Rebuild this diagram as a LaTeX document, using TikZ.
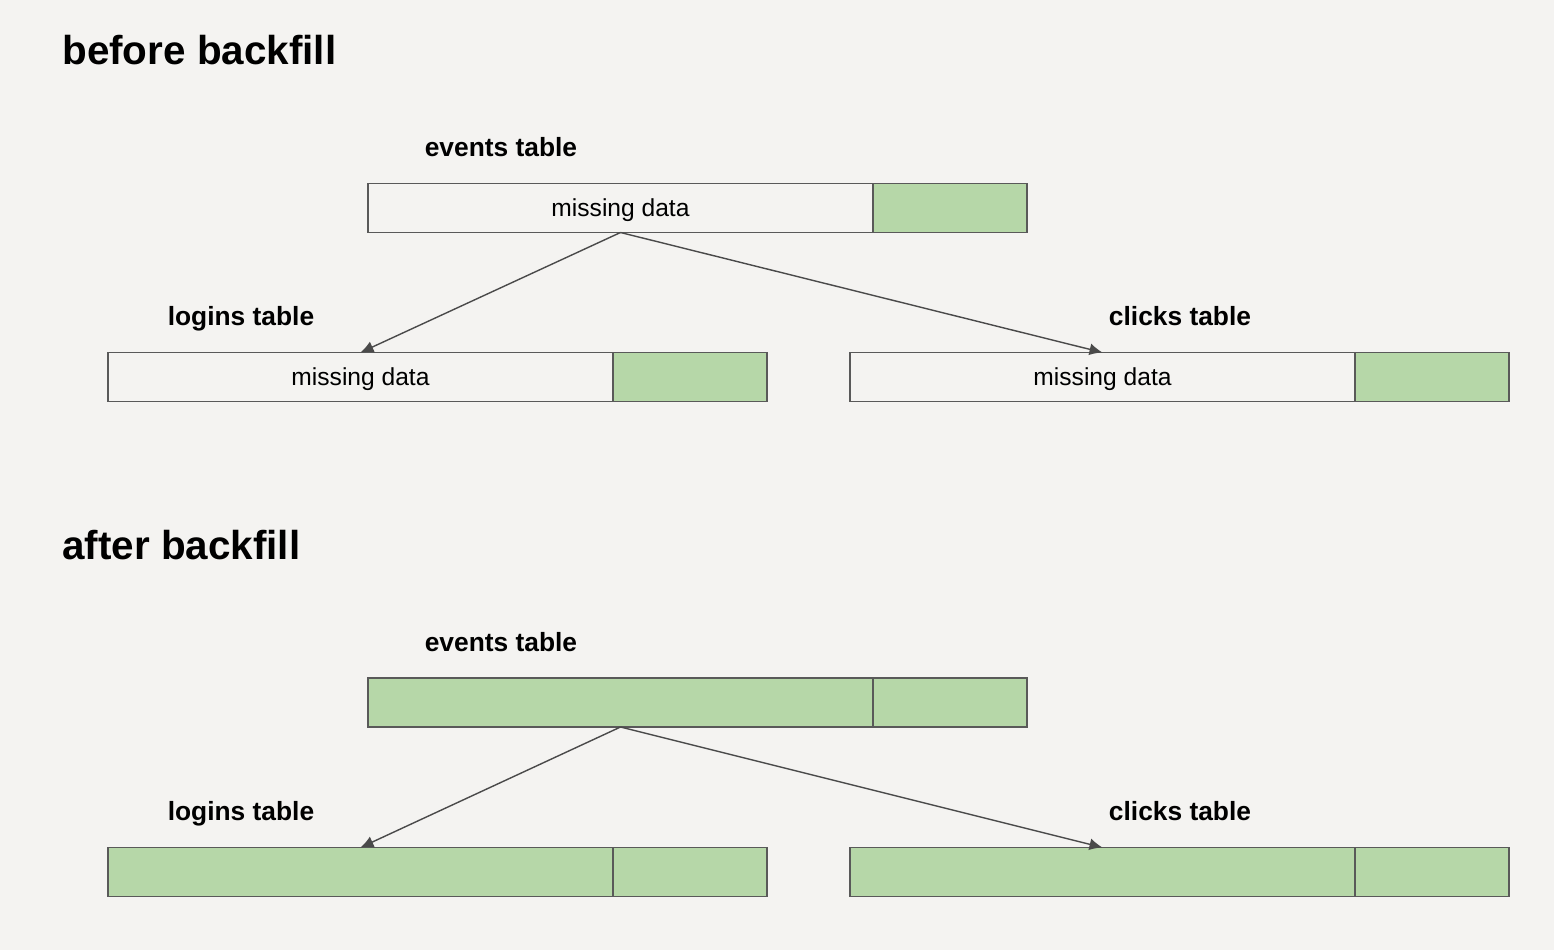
\documentclass[tikz,border=0pt]{standalone}
\usepackage{fontspec}
\setmainfont{Liberation Sans}
\usetikzlibrary{arrows.meta, positioning}
\definecolor{paper}{HTML}{F4F3F1}
\definecolor{fillgreen}{HTML}{B6D7A8}
\definecolor{linegray}{HTML}{595959}
\definecolor{arrowgray}{HTML}{4A4A4A}

\begin{document}
\begin{tikzpicture}[
  x=0.02cm, y=-0.02cm,
  node distance=0pt,
  cell/.style={draw=linegray, line width=0.8pt, minimum height=0.98cm, inner sep=0pt, outer sep=0pt, text depth=0pt, font=\fontsize{14}{16}\selectfont},
  old/.style={cell, minimum width=10.1cm},
  oldfilled/.style={old, fill=fillgreen},
  recent/.style={cell, fill=fillgreen, minimum width=3.08cm},
  title/.style={font=\bfseries\fontsize{23}{27}\selectfont, anchor=west, inner sep=0pt, text depth=0pt},
  tablename/.style={font=\bfseries\fontsize{15}{18}\selectfont, inner sep=0pt, text depth=0pt},
  arrow/.style={-{Latex[length=2.6mm, width=2.4mm]}, draw=arrowgray, line width=0.8pt}
]

\fill[paper] (0,0) rectangle (1554,950);
\useasboundingbox (0,0) rectangle (1554,950);

% before backfill
\node[title] (before) at (62,50) {before backfill};

\node[tablename] (eventslabel) at (501,147) {events table};
\node[old] (events) at (620.5,208) {missing data};
\node[recent] (eventsnew) [right=of events] {};

\node[tablename] (loginslabel) at (241,316) {logins table};
\node[old] (logins) at (360.5,377) {missing data};
\node[recent] (loginsnew) [right=of logins] {};

\node[tablename] (clickslabel) at (1180,316) {clicks table};
\node[old] (clicks) at (1102.5,377) {missing data};
\node[recent] (clicksnew) [right=of clicks] {};

\draw[arrow] (events.south) -- (logins.north);
\draw[arrow] (events.south) -- (clicks.north);

% after backfill
\node[title] (after) at (62,545) {after backfill};

\node[tablename] (eventslabel2) at (501,642) {events table};
\node[oldfilled] (events2) at (620.5,702.5) {};
\node[recent] (eventsnew2) [right=of events2] {};

\node[tablename] (loginslabel2) at (241,811) {logins table};
\node[oldfilled] (logins2) at (360.5,872) {};
\node[recent] (loginsnew2) [right=of logins2] {};

\node[tablename] (clickslabel2) at (1180,811) {clicks table};
\node[oldfilled] (clicks2) at (1102.5,872) {};
\node[recent] (clicksnew2) [right=of clicks2] {};

\draw[arrow] (events2.south) -- (logins2.north);
\draw[arrow] (events2.south) -- (clicks2.north);

\end{tikzpicture}
\end{document}
